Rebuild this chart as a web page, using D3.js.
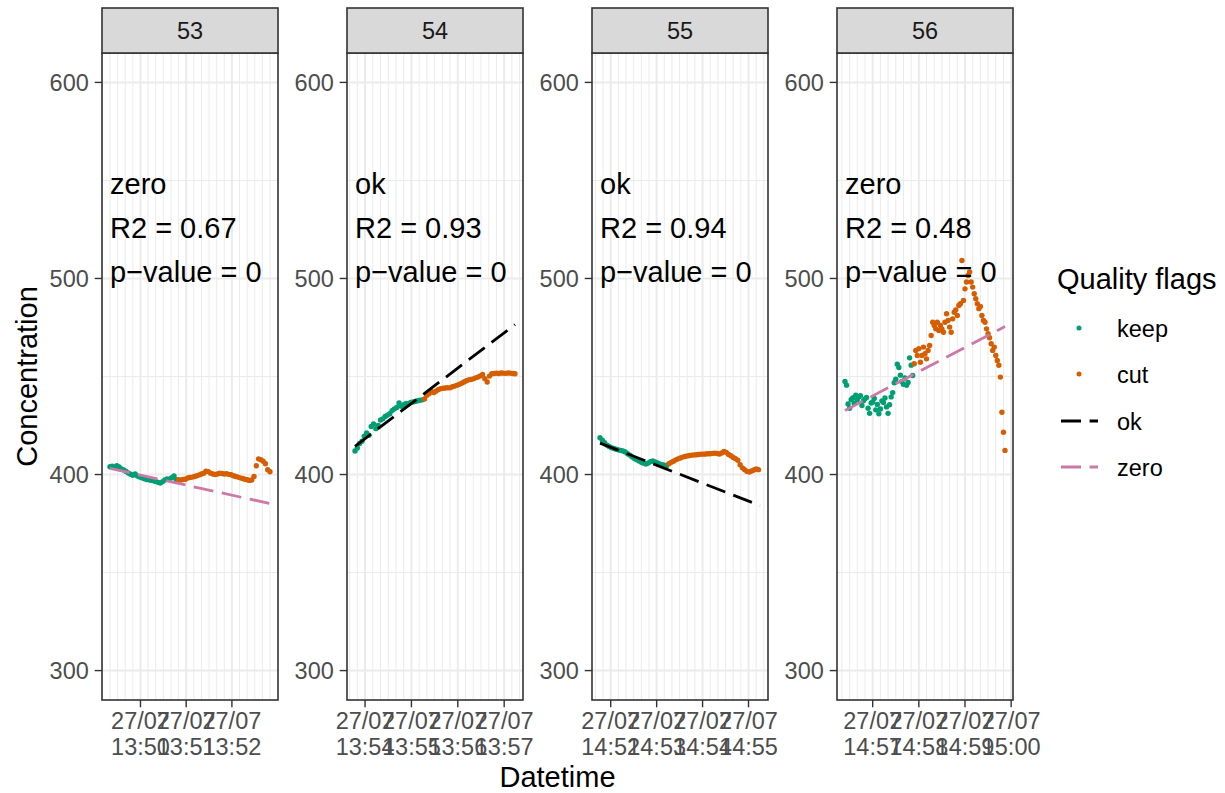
<!DOCTYPE html>
<html>
<head>
<meta charset="utf-8">
<script src="https://cdn.jsdelivr.net/npm/d3@7"></script>
<style>
  body { margin: 0; background: #fff; }
  text { font-family: "Liberation Sans", Arial, Helvetica, sans-serif; }
</style>
</head>
<body>
<div id="chart"></div>
<script>
// ---- data ----
const panelIds = ["53", "54", "55", "56"];
const startTimes = ["27/07 13:49:20", "27/07 13:53:47", "27/07 14:51:46", "27/07 14:56:24"];
const endTimes = ["27/07 13:52:50", "27/07 13:57:14", "27/07 14:55:15", "27/07 14:59:52"];
const sampleStep = [3, 3, 3, 2];      // seconds between readings
const keepCounts = [30, 30, 30, 45];  // first n readings flagged "keep", rest "cut"

const conc53 = [404.0, 404.3, 403.8, 404.5, 403.9, 402.8, 402.3, 401.6, 400.8, 400.2,
  399.6, 400.3, 399.2, 398.7, 398.3, 397.9, 397.5, 397.3, 397.0, 396.8,
  396.5, 396.0, 395.7, 396.4, 397.2, 397.8, 397.6, 398.4, 399.3, 397.4,
  397.3, 397.2, 397.5, 397.6, 398.2, 398.5, 398.7, 399.0, 399.4, 399.8,
  400.3, 400.7, 401.7, 401.5, 400.7, 400.3, 400.0, 400.3, 400.7, 400.5,
  400.3, 400.4, 400.1, 399.9, 399.4, 399.0, 398.7, 398.3, 398.0, 397.6,
  397.3, 397.0, 397.2, 399.0, 404.5, 408.0, 407.6, 406.8, 405.5, 402.5,
  401.4];
const conc54 = [412.0, 413.5, 415.8, 417.0, 419.5, 421.2, 420.0, 424.5, 425.8, 423.4,
  425.0, 427.8, 428.4, 429.6, 430.3, 431.0, 432.6, 433.5, 434.2, 436.5,
  434.8, 435.6, 436.2, 436.0, 436.8, 437.0, 437.3, 437.6, 437.9, 438.1,
  438.5, 440.4, 441.3, 442.4, 441.8, 442.6, 443.4, 443.8, 444.0, 444.1,
  444.3, 444.2, 444.8, 445.1, 445.6, 446.0, 446.6, 447.2, 447.8, 448.3,
  448.5, 448.8, 449.3, 449.7, 450.3, 451.0, 448.9, 447.2, 450.2, 451.4,
  451.5, 451.7, 451.5, 451.8, 451.7, 451.6, 451.8, 451.7, 451.5, 451.4];
const conc55 = [418.8, 417.5, 416.2, 415.0, 414.3, 413.7, 413.3, 412.9, 412.6, 412.3,
  412.0, 411.5, 410.6, 409.9, 409.0, 408.2, 407.5, 406.9, 406.3, 405.8,
  405.4, 405.9, 406.6, 406.9, 406.4, 405.9, 405.4, 405.0, 404.7, 404.5,
  405.5, 406.2, 406.8, 407.5, 408.0, 408.4, 408.9, 409.2, 409.5, 409.7,
  409.9, 410.0, 410.1, 410.2, 410.4, 410.4, 410.5, 410.6, 410.6, 410.8,
  410.9, 410.7, 410.5, 411.0, 411.8, 411.2, 410.2, 409.6, 408.7, 408.1,
  407.3, 405.0, 403.4, 402.5, 401.6, 401.3, 401.8, 402.3, 402.8, 402.5];
const conc56 = [447.5, 445.6, 436.0, 433.8, 438.2, 439.0, 436.4, 440.5, 438.1, 439.5,
  440.2, 435.2, 437.6, 438.6, 439.3, 433.8, 431.2, 436.5, 437.0, 438.8,
  433.0, 435.7, 431.0, 433.4, 437.5, 436.8, 439.0, 434.5, 431.2, 435.6,
  439.6, 441.8, 446.8, 448.6, 456.3, 454.6, 450.7, 447.5, 446.0, 449.2,
  445.5, 447.0, 459.5, 455.8, 450.5,
  456.5, 463.3, 460.7, 464.2, 457.3, 460.7, 465.0, 461.6, 459.0, 463.3,
  465.8, 470.9, 477.7, 476.0, 474.3, 477.7, 473.5, 476.0, 474.3, 472.6,
  477.7, 482.0, 478.6, 475.2, 472.6, 479.4, 482.8, 484.0, 481.1, 486.2,
  487.1, 509.2, 488.8, 494.7, 498.2, 501.5, 503.3, 498.2, 495.6, 492.2,
  489.7, 487.1, 484.6, 485.7, 481.1, 478.6, 477.7, 474.3, 471.8, 469.8,
  466.7, 463.3, 465.0, 460.7, 458.2, 455.7, 449.7, 431.8, 421.6, 412.3];
const concValues = [conc53, conc54, conc55, conc56];

// fitted line, value at start and end of each measurement
const fitStart = [403.1, 414.4, 416.0, 432.7];
const fitEnd = [385.2, 476.5, 384.2, 475.5];
const fitFlags = ["zero", "ok", "ok", "zero"];
const r2Values = ["0.67", "0.93", "0.94", "0.48"];
const pValues = ["0", "0", "0", "0"];

const yLimits = [300, 600];
const yTicks = [300, 400, 500, 600];
const yMinor = [350, 450, 550];
const xTickTimes = [
  ["13:50", "13:51", "13:52"],
  ["13:54", "13:55", "13:56", "13:57"],
  ["14:52", "14:53", "14:54", "14:55"],
  ["14:57", "14:58", "14:59", "15:00"]
];
const legendItems = ["keep", "cut", "ok", "zero"];

// ---- layout ----
const width = 1225, height = 793;
const panelLeft = 102, panelGap = 245, panelW = 176;
const stripTop = 8, panelTop = 53, panelBottom = 700;
const colors = { keep: "#009E73", cut: "#D55E00", ok: "#000000", zero: "#CC79A7" };
const gridCol = "#EBEBEB", borderCol = "#333333", tickCol = "#4D4D4D";

const parseT = d3.timeParse("%d/%m %H:%M:%S");
const parseTick = d3.timeParse("%d/%m %H:%M");

const svg = d3.select("#chart").append("svg")
  .attr("width", width).attr("height", height);

const yPad = (yLimits[1] - yLimits[0]) * 0.05;
const y = d3.scaleLinear()
  .domain([yLimits[0] - yPad, yLimits[1] + yPad])
  .range([panelBottom, panelTop]);

panelIds.forEach((id, p) => {
  const left = panelLeft + p * panelGap;
  const t0 = parseT(startTimes[p]), t1 = parseT(endTimes[p]);
  const pad = (t1 - t0) * 0.05;
  const x = d3.scaleTime()
    .domain([new Date(+t0 - pad), new Date(+t1 + pad)])
    .range([left, left + panelW]);

  const g = svg.append("g");

  // panel background + grid
  g.append("rect").attr("x", left).attr("y", panelTop)
    .attr("width", panelW).attr("height", panelBottom - panelTop).attr("fill", "#fff");

  const tickDates = xTickTimes[p].map(s => parseTick("27/07 " + s));
  const minorDates = x.ticks(d3.timeSecond.every(10))
    .filter(d => d.getSeconds() !== 0);

  g.selectAll(".vminor").data(minorDates).enter().append("line")
    .attr("x1", d => x(d)).attr("x2", d => x(d))
    .attr("y1", panelTop).attr("y2", panelBottom)
    .attr("stroke", gridCol).attr("stroke-width", 1);
  g.selectAll(".hminor").data(yMinor).enter().append("line")
    .attr("x1", left).attr("x2", left + panelW)
    .attr("y1", d => y(d)).attr("y2", d => y(d))
    .attr("stroke", gridCol).attr("stroke-width", 1);
  g.selectAll(".vmajor").data(tickDates).enter().append("line")
    .attr("x1", d => x(d)).attr("x2", d => x(d))
    .attr("y1", panelTop).attr("y2", panelBottom)
    .attr("stroke", gridCol).attr("stroke-width", 2);
  g.selectAll(".hmajor").data(yTicks).enter().append("line")
    .attr("x1", left).attr("x2", left + panelW)
    .attr("y1", d => y(d)).attr("y2", d => y(d))
    .attr("stroke", gridCol).attr("stroke-width", 2);

  // points
  const pts = concValues[p].map((v, i) => ({
    t: d3.timeSecond.offset(t0, i * sampleStep[p]),
    v: v,
    flag: i < keepCounts[p] ? "keep" : "cut"
  }));
  g.selectAll(".pt").data(pts).enter().append("circle")
    .attr("cx", d => x(d.t)).attr("cy", d => y(d.v))
    .attr("r", 2.7)
    .attr("fill", d => colors[d.flag]);

  // fitted line
  const line = d3.line().x(d => x(d[0])).y(d => y(d[1]));
  g.append("path")
    .datum([[t0, fitStart[p]], [t1, fitEnd[p]]])
    .attr("d", line)
    .attr("fill", "none")
    .attr("stroke", colors[fitFlags[p]])
    .attr("stroke-width", 2.8)
    .attr("stroke-dasharray", "20,8.6");

  // annotation
  const ann = g.append("text")
    .attr("x", x(t0)).attr("y", y(545) + 4)
    .style("font-size", "29px").attr("fill", "#000");
  [fitFlags[p], "R2 = " + r2Values[p], "p\u2212value = " + pValues[p]].forEach((s, i) => {
    ann.append("tspan").attr("x", x(t0)).attr("dy", i === 0 ? 0 : 44).text(s);
  });

  // border
  g.append("rect").attr("x", left).attr("y", panelTop)
    .attr("width", panelW).attr("height", panelBottom - panelTop)
    .attr("fill", "none").attr("stroke", borderCol).attr("stroke-width", 1.6);

  // strip
  g.append("rect").attr("x", left).attr("y", stripTop)
    .attr("width", panelW).attr("height", panelTop - stripTop)
    .attr("fill", "#D9D9D9").attr("stroke", borderCol).attr("stroke-width", 1.6);
  g.append("text").attr("x", left + panelW / 2).attr("y", 39)
    .attr("text-anchor", "middle").style("font-size", "23.5px")
    .attr("fill", "#1A1A1A").text(id);

  // y axis
  g.selectAll(".ytick").data(yTicks).enter().append("line")
    .attr("x1", left - 7.3).attr("x2", left)
    .attr("y1", d => y(d)).attr("y2", d => y(d))
    .attr("stroke", borderCol).attr("stroke-width", 1.4);
  g.selectAll(".ylab").data(yTicks).enter().append("text")
    .attr("x", left - 13.2).attr("y", d => y(d) + 8.4)
    .attr("text-anchor", "end").style("font-size", "23.5px")
    .attr("fill", tickCol).text(d => d);

  // x axis
  g.selectAll(".xtick").data(tickDates).enter().append("line")
    .attr("x1", d => x(d)).attr("x2", d => x(d))
    .attr("y1", panelBottom).attr("y2", panelBottom + 7.3)
    .attr("stroke", borderCol).attr("stroke-width", 1.4);
  const fmtDay = d3.timeFormat("%d/%m"), fmtHm = d3.timeFormat("%H:%M");
  tickDates.forEach(d => {
    g.append("text").attr("x", x(d)).attr("y", 729)
      .attr("text-anchor", "middle").style("font-size", "23.5px")
      .attr("fill", tickCol).text(fmtDay(d));
    g.append("text").attr("x", x(d)).attr("y", 755)
      .attr("text-anchor", "middle").style("font-size", "23.5px")
      .attr("fill", tickCol).text(fmtHm(d));
  });
});

// axis titles
svg.append("text")
  .attr("transform", `translate(37, ${(panelTop + panelBottom) / 2}) rotate(-90)`)
  .attr("text-anchor", "middle").style("font-size", "29px").text("Concentration");
svg.append("text")
  .attr("x", (panelLeft + panelLeft + 3 * panelGap + panelW) / 2).attr("y", 787)
  .attr("text-anchor", "middle").style("font-size", "29px").text("Datetime");

// legend
const legend = svg.append("g");
legend.append("text").attr("x", 1057).attr("y", 288.5)
  .style("font-size", "29px").text("Quality flags");
const keyY = [328, 374, 421, 467];
legendItems.forEach((item, i) => {
  if (item === "keep" || item === "cut") {
    legend.append("circle").attr("cx", 1079).attr("cy", keyY[i])
      .attr("r", 2.5).attr("fill", colors[item]);
  } else {
    legend.append("line").attr("x1", 1061).attr("x2", 1098)
      .attr("y1", keyY[i]).attr("y2", keyY[i])
      .attr("stroke", colors[item]).attr("stroke-width", 2.8)
      .attr("stroke-dasharray", "20,8.6");
  }
  legend.append("text").attr("x", 1117).attr("y", keyY[i] + 8.5)
    .style("font-size", "23.5px").text(item);
});
</script>
</body>
</html>
